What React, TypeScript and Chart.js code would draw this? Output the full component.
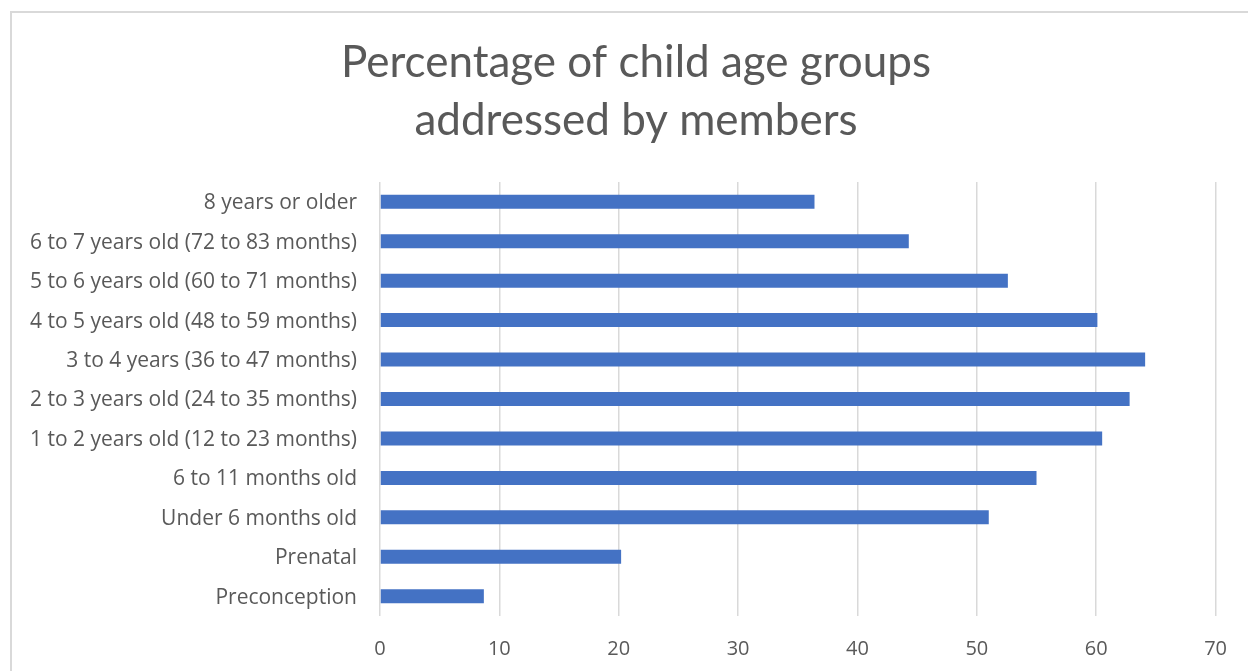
import React, { useEffect, useRef } from "react";
import { Chart, registerables } from "chart.js";

Chart.register(...registerables);

const categories: string[] = [
  "8 years or older",
  "6 to 7 years old (72 to 83 months)",
  "5 to 6 years old (60 to 71 months)",
  "4 to 5 years old (48 to 59 months)",
  "3 to 4 years (36 to 47 months)",
  "2 to 3 years old (24 to 35 months)",
  "1 to 2 years old (12 to 23 months)",
  "6 to 11 months old",
  "Under 6 months old",
  "Prenatal",
  "Preconception",
];

const percentages: number[] = [36.4, 44.3, 52.6, 60.1, 64.1, 62.8, 60.5, 55.0, 51.0, 20.2, 8.7];

const xTicks: number[] = [0, 10, 20, 30, 40, 50, 60, 70];

const titleLines: string[] = ["Percentage of child age groups", "addressed by members"];

const TITLE_FONT = "Lato, 'Open Sans', sans-serif";
const TICK_FONT = "'Open Sans', sans-serif";
const TEXT = "#595959";

const frame = {
  id: "frame",
  beforeDraw(chart: any) {
    const ctx = chart.ctx;
    ctx.save();
    ctx.fillStyle = "#ffffff";
    ctx.fillRect(0, 0, chart.width, chart.height);
    ctx.strokeStyle = "#d9d9d9";
    ctx.lineWidth = 2;
    ctx.strokeRect(11, 12, chart.width + 40, chart.height + 40);
    ctx.restore();
  },
  afterDraw(chart: any) {
    const ctx = chart.ctx;
    ctx.save();
    ctx.fillStyle = TEXT;
    ctx.font = `normal 44px ${TITLE_FONT}`;
    ctx.textAlign = "center";
    ctx.textBaseline = "middle";
    const cx = 636;
    titleLines.forEach((line, i) => {
      ctx.fillText(line, cx, 63 + i * 58);
    });
    ctx.restore();
  },
};

export default function App() {
  const ref = useRef<HTMLCanvasElement | null>(null);

  useEffect(() => {
    if (!ref.current) return;
    const chart = new Chart(ref.current, {
      type: "bar",
      data: {
        labels: categories,
        datasets: [
          {
            data: percentages,
            backgroundColor: "#4472C4",
            borderWidth: 0,
            barPercentage: 0.355,
            categoryPercentage: 1,
          },
        ],
      },
      options: {
        indexAxis: "y",
        animation: false,
        responsive: false,
        maintainAspectRatio: false,
        layout: { padding: { left: 0, right: 31, top: 182, bottom: 0 } },
        plugins: {
          legend: { display: false },
          tooltip: { enabled: false },
          title: { display: false },
        },
        scales: {
          x: {
            type: "linear",
            min: 0,
            max: 70,
            afterBuildTicks: (scale: any) => {
              scale.ticks = xTicks.map((v) => ({ value: v }));
            },
            afterFit: (scale: any) => {
              scale.height = 55;
            },
            grid: { color: "#d9d9d9", lineWidth: 1.5, drawTicks: false },
            border: { display: false },
            ticks: {
              color: TEXT,
              padding: 21,
              font: { family: TICK_FONT, size: 20 },
              maxRotation: 0,
            },
          },
          y: {
            afterFit: (scale: any) => {
              scale.width = 380;
            },
            grid: { display: false, drawTicks: false },
            border: { display: false },
            ticks: {
              color: TEXT,
              padding: 23,
              labelOffset: 1.5,
              font: { family: TICK_FONT, size: 21 },
              autoSkip: false,
            },
          },
        },
      },
      plugins: [frame],
    });
    return () => chart.destroy();
  }, []);

  return (
    <div style={{ position: "fixed", left: 0, top: 0, width: 1248, height: 671 }}>
      <canvas ref={ref} width={1248} height={671} style={{ width: 1248, height: 671 }} />
    </div>
  );
}
